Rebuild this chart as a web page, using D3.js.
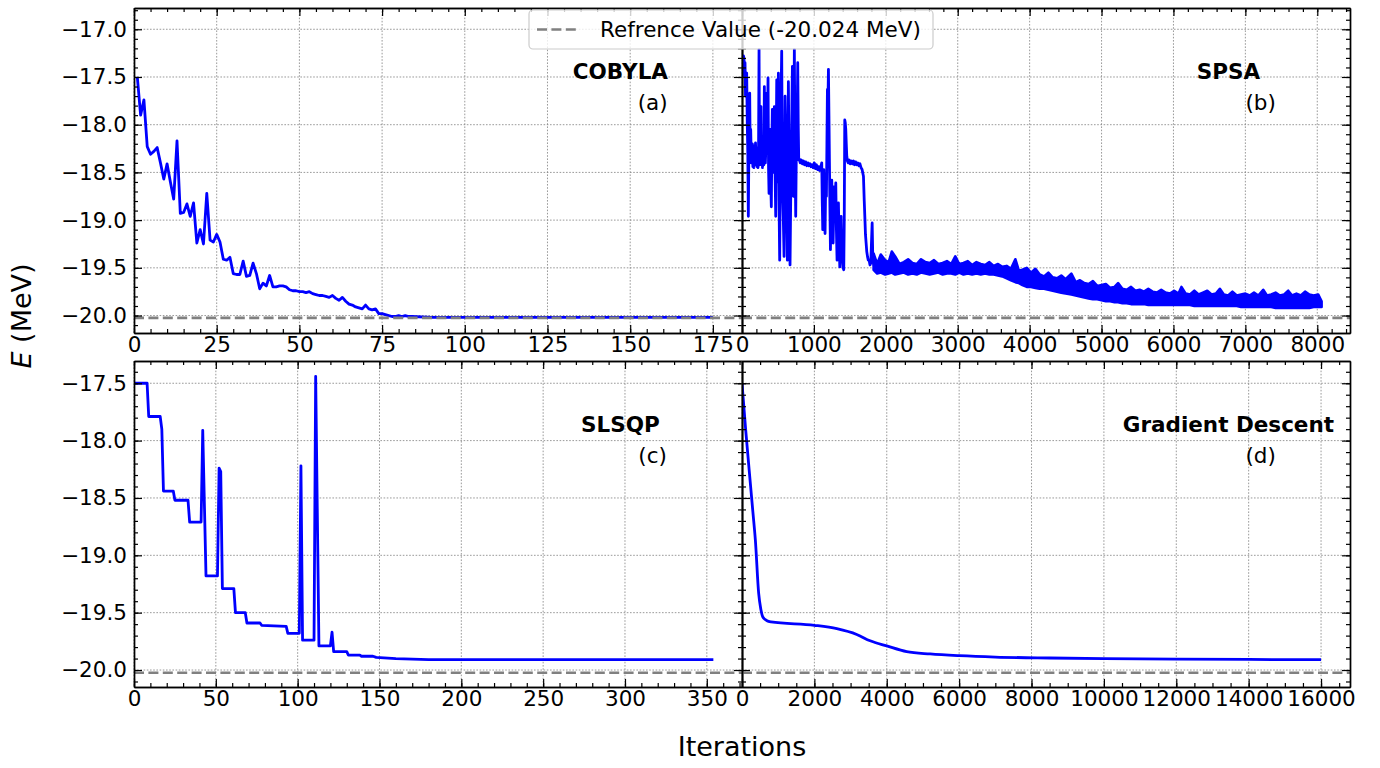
<!DOCTYPE html>
<html>
<head>
<meta charset="utf-8">
<script src="https://cdn.jsdelivr.net/npm/d3@7"></script>
<style>
  body { margin: 0; background: #fff; }
  svg { font-family: 'DejaVu Sans', sans-serif; }
  .grid line { stroke: #808080; stroke-width: 0.8; stroke-dasharray: 1.6,1.6; }
  .axis path, .axis line { stroke: #000; }
  .axis path { stroke-width: 1.4; }
  .axis line { stroke-width: 1.2; }
  .axis text { font-family: 'DejaVu Sans', sans-serif; font-size: 21.5px; fill: #000; }
</style>
</head>
<body>
<div id="chart"></div>
<script>
// reference energy
var refValue = -20.024;

// (a) COBYLA
var cobylaIter = [1, 2, 3, 4, 5, 6, 7, 8, 9, 10, 11, 12, 13, 14, 15, 16, 17, 18, 19, 20,
  21, 22, 23, 24, 25, 26, 27, 28, 29, 30, 31, 32, 33, 34, 35, 36, 37, 38, 39, 40,
  41, 42, 43, 44, 45, 46, 47, 48, 49, 50, 51, 52, 53, 54, 55, 56, 57, 58, 59, 60,
  61, 62, 63, 64, 65, 66, 67, 68, 69, 70, 71, 72, 73, 74, 75, 76, 77, 78, 79, 80,
  81, 82, 83, 84, 90, 100, 175];
var cobylaE = [-17.50, -17.90, -17.74, -18.23, -18.31, -18.28, -18.24, -18.40, -18.57, -18.41,
  -18.60, -18.78, -18.17, -18.93, -18.92, -18.83, -18.96, -18.82, -19.24, -19.10,
  -19.25, -18.72, -19.21, -19.23, -19.15, -19.23, -19.41, -19.42, -19.39, -19.56,
  -19.57, -19.57, -19.43, -19.59, -19.58, -19.45, -19.56, -19.72, -19.66, -19.69,
  -19.58, -19.70, -19.70, -19.69, -19.69, -19.70, -19.73, -19.74, -19.74, -19.75,
  -19.75, -19.76, -19.75, -19.77, -19.78, -19.79, -19.79, -19.80, -19.81, -19.79,
  -19.82, -19.84, -19.81, -19.85, -19.88, -19.89, -19.91, -19.92, -19.93, -19.89,
  -19.93, -19.94, -19.93, -19.98, -19.98, -19.99, -20.00, -20.01, -20.01, -20.00,
  -20.01, -20.00, -20.01, -20.01, -20.02, -20.02, -20.02];

// (b) SPSA, noisy start
var spsaIter = [0, 7, 14, 21, 28, 35, 42, 49, 56, 65, 74, 81, 88, 97, 107, 114, 121, 130, 137, 144,
  151, 158, 165, 172, 180, 188, 195, 202, 209, 216, 222, 230, 237, 244, 251, 264, 271, 278, 285, 297,
  304, 311, 318, 325, 334, 343, 352, 362, 369, 376, 383, 390, 399, 408, 415, 422, 429, 436, 443, 450,
  460, 469, 476, 483, 490, 496, 501, 506, 515, 524, 531, 538, 545, 552, 559, 566, 575, 585, 592, 599,
  608, 617, 624, 631, 638, 645, 652, 659, 668, 677, 687, 694, 701, 708, 715, 722, 728, 737, 747, 754,
  761, 768, 775, 782, 789, 797, 810, 825, 840, 855, 870, 885, 900, 915, 930, 945, 960, 975, 990, 1005,
  1020, 1035, 1050, 1065, 1080, 1095, 1109, 1116, 1123, 1130, 1137, 1146, 1155, 1164, 1174, 1181, 1188, 1195, 1202, 1209,
  1216, 1223, 1230, 1239, 1248, 1257, 1267, 1276, 1285, 1295, 1304, 1313, 1322, 1331, 1341, 1350, 1360, 1369, 1378, 1387,
  1397, 1406, 1415, 1422, 1429, 1436, 1443, 1450, 1457, 1466, 1476, 1490, 1505, 1520, 1535, 1550, 1565, 1580, 1595, 1610,
  1625, 1640, 1655, 1670, 1689, 1700, 1708, 1717, 1726, 1735, 1745, 1756, 1768, 1780, 1791, 1800, 1810, 1819, 1828, 1840,
  1847];
var spsaE = [-17.34, -17.30, -17.46, -17.28, -17.31, -17.50, -17.35, -17.70, -17.63, -17.46,
  -18.02, -18.30, -18.96, -18.16, -17.67, -18.30, -18.05, -18.40, -18.22, -18.20,
  -18.44, -18.25, -18.45, -18.22, -18.42, -18.19, -18.40, -18.24, -18.44, -18.26,
  -18.45, -18.30, -17.21, -18.42, -18.40, -17.81, -18.42, -18.33, -18.45, -18.16,
  -18.42, -17.60, -18.30, -18.40, -18.20, -17.67, -18.30, -17.51, -18.45, -18.72,
  -18.30, -18.05, -18.60, -18.86, -18.20, -17.84, -18.50, -18.40, -18.10, -17.81,
  -18.50, -18.96, -18.20, -17.53, -18.60, -18.40, -17.80, -17.46, -18.80, -19.42,
  -18.60, -18.05, -17.60, -17.23, -18.20, -18.75, -19.00, -19.38, -18.50, -17.70,
  -18.10, -18.40, -19.00, -19.42, -18.50, -17.55, -18.20, -18.75, -19.47, -18.80,
  -18.23, -17.80, -17.39, -18.30, -18.75, -18.00, -17.21, -18.30, -18.96, -18.40,
  -17.70, -17.90, -17.35, -18.00, -18.37, -18.36, -18.40, -18.37, -18.41, -18.38,
  -18.42, -18.39, -18.43, -18.40, -18.43, -18.41, -18.44, -18.42, -18.45, -18.40,
  -18.46, -18.42, -18.47, -18.44, -18.48, -18.45, -18.40, -18.80, -19.10, -18.60,
  -18.47, -18.90, -19.14, -18.60, -18.75, -18.20, -17.63, -17.80, -17.42, -17.90,
  -18.40, -18.90, -19.31, -18.80, -18.58, -18.90, -19.24, -18.90, -18.65, -19.00,
  -18.61, -19.10, -19.42, -19.00, -18.82, -19.20, -19.49, -19.10, -18.96, -19.30,
  -19.42, -19.50, -19.52, -19.00, -17.95, -17.98, -18.05, -18.20, -18.33, -18.38,
  -18.40, -18.37, -18.41, -18.38, -18.41, -18.38, -18.42, -18.39, -18.42, -18.40,
  -18.43, -18.41, -18.45, -18.47, -18.54, -18.80, -18.96, -19.15, -19.24, -19.33,
  -19.38, -19.42, -19.42, -19.47, -19.45, -19.25, -19.03, -19.40, -19.45, -19.48,
  -19.50];

// (b) SPSA, noise band after convergence: upper and lower edges
var spsaBandIter = [1830, 1880, 1930, 1990, 2040, 2083, 2130, 2190, 2250, 2310,
  2370, 2430, 2490, 2550, 2610, 2670, 2730, 2790, 2850, 2910,
  2966, 3020, 3080, 3140, 3200, 3260, 3320, 3380, 3440, 3500,
  3560, 3620, 3680, 3740, 3801, 3850, 3900, 3960, 4020, 4080,
  4140, 4200, 4260, 4320, 4380, 4440, 4500, 4580, 4640, 4700,
  4760, 4820, 4880, 4940, 5000, 5060, 5120, 5180, 5230, 5290,
  5350, 5410, 5470, 5530, 5590, 5650, 5710, 5770, 5830, 5890,
  5950, 6010, 6070, 6111, 6170, 6230, 6290, 6350, 6410, 6470,
  6530, 6590, 6645, 6700, 6760, 6820, 6880, 6940, 7000, 7060,
  7120, 7180, 7248, 7300, 7360, 7420, 7480, 7540, 7596, 7650,
  7710, 7770, 7830, 7890, 7950, 8014, 8060];
var spsaBandHigh = [-19.35, -19.46, -19.36, -19.42, -19.44, -19.33, -19.38, -19.46, -19.44, -19.41,
  -19.45, -19.46, -19.41, -19.44, -19.45, -19.42, -19.46, -19.45, -19.43, -19.46,
  -19.38, -19.46, -19.45, -19.43, -19.47, -19.44, -19.46, -19.47, -19.44, -19.48,
  -19.46, -19.49, -19.48, -19.51, -19.41, -19.53, -19.52, -19.50, -19.55, -19.51,
  -19.57, -19.59, -19.55, -19.60, -19.61, -19.58, -19.62, -19.56, -19.65, -19.63,
  -19.66, -19.67, -19.64, -19.69, -19.68, -19.67, -19.71, -19.70, -19.66, -19.72,
  -19.73, -19.70, -19.74, -19.73, -19.75, -19.72, -19.75, -19.76, -19.73, -19.76,
  -19.77, -19.74, -19.77, -19.70, -19.77, -19.78, -19.74, -19.78, -19.76, -19.74,
  -19.78, -19.77, -19.72, -19.78, -19.79, -19.75, -19.79, -19.78, -19.77, -19.79,
  -19.76, -19.79, -19.73, -19.79, -19.78, -19.76, -19.79, -19.78, -19.74, -19.79,
  -19.77, -19.79, -19.75, -19.78, -19.79, -19.78, -19.85];
var spsaBandLow = [-19.52, -19.56, -19.55, -19.57, -19.56, -19.55, -19.57, -19.56, -19.55, -19.57,
  -19.56, -19.57, -19.55, -19.56, -19.57, -19.56, -19.55, -19.57, -19.56, -19.56,
  -19.57, -19.55, -19.57, -19.56, -19.57, -19.56, -19.57, -19.56, -19.57, -19.57,
  -19.58, -19.59, -19.61, -19.63, -19.65, -19.66, -19.68, -19.70, -19.70, -19.71,
  -19.72, -19.72, -19.73, -19.74, -19.75, -19.76, -19.77, -19.78, -19.79, -19.80,
  -19.81, -19.82, -19.83, -19.83, -19.84, -19.85, -19.85, -19.86, -19.86, -19.87,
  -19.87, -19.88, -19.88, -19.88, -19.88, -19.89, -19.89, -19.89, -19.89, -19.89,
  -19.89, -19.89, -19.89, -19.89, -19.89, -19.89, -19.90, -19.90, -19.90, -19.90,
  -19.90, -19.90, -19.90, -19.90, -19.90, -19.90, -19.90, -19.91, -19.91, -19.91,
  -19.91, -19.91, -19.91, -19.91, -19.91, -19.92, -19.92, -19.92, -19.92, -19.92,
  -19.92, -19.92, -19.92, -19.92, -19.91, -19.91, -19.91];

// (c) SLSQP
var slsqpIter = [0, 8, 9, 16, 17, 18, 24, 25, 33, 34, 41, 42, 44, 51, 52, 53, 54, 61, 62, 68,
  69, 77, 78, 93, 94, 101, 102, 103, 110, 111, 113, 120, 121, 122, 130, 131, 138, 139, 146, 148,
  160, 180, 354];
var slsqpE = [-17.50, -17.50, -17.79, -17.79, -17.90, -18.44, -18.44, -18.52, -18.52, -18.71,
  -18.71, -17.91, -19.18, -19.18, -18.24, -18.27, -19.29, -19.29, -19.50, -19.50,
  -19.59, -19.59, -19.61, -19.62, -19.68, -19.68, -18.22, -19.74, -19.74, -17.44,
  -19.79, -19.79, -19.67, -19.84, -19.84, -19.87, -19.87, -19.88, -19.88, -19.89,
  -19.90, -19.91, -19.91];

// (d) Gradient descent
var gdIter = [0, 100, 230, 300, 370, 460, 520, 580, 690, 800, 2000, 2620, 3170, 3540, 4000,
  4550, 5200, 6000, 7000, 8500, 10000, 12000, 14000, 16000];
var gdE = [-17.50, -17.90, -18.37, -18.62, -18.87, -19.33, -19.47, -19.54, -19.57, -19.58,
  -19.61, -19.64, -19.69, -19.745, -19.79, -19.84, -19.86, -19.875, -19.887, -19.895,
  -19.90, -19.905, -19.908, -19.91];

// tick labels
var topYTicks = [-20.0, -19.5, -19.0, -18.5, -18.0, -17.5, -17.0];
var bottomYTicks = [-20.0, -19.5, -19.0, -18.5, -18.0, -17.5];
var cobylaXTicks = [0, 25, 50, 75, 100, 125, 150, 175];
var spsaXTicks = [0, 1000, 2000, 3000, 4000, 5000, 6000, 7000, 8000];
var slsqpXTicks = [0, 50, 100, 150, 200, 250, 300, 350];
var gdXTicks = [0, 2000, 4000, 6000, 8000, 10000, 12000, 14000, 16000];

var lineBlue = '#0000ff';
var refGray = '#808080';

var fullWidth = 1380;
var fullHeight = 768;
var panelW = 608;

var svg = d3.select('#chart').append('svg')
  .attr('width', fullWidth)
  .attr('height', fullHeight);

var defs = svg.append('defs');

function toPoints(xs, ys) {
  return xs.map(function(d, i) { return [d, ys[i]]; });
}

function drawPanel(p) {
  var panelH = p.height;
  var g = svg.append('g')
    .attr('transform', 'translate(' + p.left + ',' + p.top + ')');

  var x = d3.scaleLinear().domain(p.xDomain).range([0, panelW]);
  var y = d3.scaleLinear().domain(p.yDomain).range([panelH, 0]);

  defs.append('clipPath').attr('id', 'clip-' + p.id)
    .append('rect').attr('width', panelW).attr('height', panelH);

  // grid
  var grid = g.append('g').classed('grid', true);
  grid.selectAll('line.gx').data(p.xTicks).enter().append('line')
    .attr('x1', function(d) { return x(d); })
    .attr('x2', function(d) { return x(d); })
    .attr('y1', 0).attr('y2', panelH);
  grid.selectAll('line.gy').data(p.yTicks).enter().append('line')
    .attr('x1', 0).attr('x2', panelW)
    .attr('y1', function(d) { return y(d); })
    .attr('y2', function(d) { return y(d); });

  var plot = g.append('g').attr('clip-path', 'url(#clip-' + p.id + ')');

  var line = d3.line()
    .x(function(d) { return x(d[0]); })
    .y(function(d) { return y(d[1]); });

  if (p.band) {
    var area = d3.area()
      .x(function(d) { return x(d[0]); })
      .y0(function(d) { return y(d[1]); })
      .y1(function(d) { return y(d[2]); });
    var bandData = p.band[0].map(function(d, i) { return [d, p.band[2][i], p.band[1][i]]; });
    plot.append('path')
      .datum(bandData)
      .attr('d', area)
      .style('fill', lineBlue)
      .style('stroke', lineBlue)
      .style('stroke-width', 2.6)
      .style('stroke-linejoin', 'round');
  }

  plot.append('path')
    .datum(toPoints(p.xs, p.ys))
    .attr('d', p.curve ? line.curve(p.curve) : line)
    .style('fill', 'none')
    .style('stroke', lineBlue)
    .style('stroke-width', 2.8)
    .style('stroke-linejoin', 'round');

  plot.append('line')
    .attr('x1', 0).attr('x2', panelW)
    .attr('y1', y(refValue)).attr('y2', y(refValue))
    .style('stroke', refGray)
    .style('stroke-width', 2.6)
    .style('stroke-dasharray', '10,4.4');

  // ticks on all four sides, pointing inward
  var xMinor = d3.range(p.xDomain[0], p.xDomain[1], p.xMinor);
  var yMinor = d3.range(-20.1, -16.7, 0.1).filter(function(d) { return d >= p.yDomain[0] && d <= p.yDomain[1]; });

  function addAxis(axisFn, scale, ticks, size, transform) {
    var a = axisFn(scale).tickValues(ticks).tickSizeInner(size).tickSizeOuter(0).tickFormat('');
    return g.append('g').classed('axis', true)
      .attr('transform', transform)
      .call(a);
  }

  addAxis(d3.axisBottom, x, xMinor, -4, 'translate(0,' + panelH + ')');
  addAxis(d3.axisTop, x, xMinor, -4, 'translate(0,0)');
  addAxis(d3.axisLeft, y, yMinor, -4, 'translate(0,0)');
  addAxis(d3.axisRight, y, yMinor, -4, 'translate(' + panelW + ',0)');

  var xb = d3.axisBottom(x).tickValues(p.xTicks).tickSizeInner(-8).tickSizeOuter(0)
    .tickPadding(4).tickFormat(d3.format('d'));
  g.append('g').classed('axis', true)
    .attr('transform', 'translate(0,' + panelH + ')')
    .call(xb);
  addAxis(d3.axisTop, x, p.xTicks, -8, 'translate(0,0)');
  addAxis(d3.axisRight, y, p.yTicks, -8, 'translate(' + panelW + ',0)');
  var yl = d3.axisLeft(y).tickValues(p.yTicks).tickSizeInner(-8).tickSizeOuter(0)
    .tickPadding(7).tickFormat(p.yLabels ? d3.format('.1f') : '');
  g.append('g').classed('axis', true).call(yl);

  // method name and panel letter
  g.append('text')
    .attr('x', panelW * 0.8)
    .attr('y', 71)
    .style('text-anchor', 'middle')
    .style('font-size', '21.5px')
    .style('font-weight', 'bold')
    .text(p.name);
  g.append('text')
    .attr('x', panelW * 0.853)
    .attr('y', 102)
    .style('text-anchor', 'middle')
    .style('font-size', '21.5px')
    .text(p.letter);
}

drawPanel({id: 'a', left: 134, top: 8, height: 325,
  xDomain: [0, 183.8], yDomain: [-20.183, -16.777],
  xTicks: cobylaXTicks, yTicks: topYTicks, xMinor: 5, yLabels: true,
  xs: cobylaIter, ys: cobylaE, name: 'COBYLA', letter: '(a)'});

drawPanel({id: 'b', left: 742, top: 8, height: 325,
  xDomain: [0, 8455], yDomain: [-20.183, -16.777],
  xTicks: spsaXTicks, yTicks: topYTicks, xMinor: 200, yLabels: false,
  xs: spsaIter, ys: spsaE, band: [spsaBandIter, spsaBandHigh, spsaBandLow],
  name: 'SPSA', letter: '(b)'});

drawPanel({id: 'c', left: 134, top: 361, height: 326,
  xDomain: [0, 371.5], yDomain: [-20.148, -17.306],
  xTicks: slsqpXTicks, yTicks: bottomYTicks, xMinor: 10, yLabels: true,
  xs: slsqpIter, ys: slsqpE, name: 'SLSQP', letter: '(c)'});

drawPanel({id: 'd', left: 742, top: 361, height: 326,
  xDomain: [0, 16800], yDomain: [-20.148, -17.306],
  xTicks: gdXTicks, yTicks: bottomYTicks, xMinor: 500, yLabels: false,
  xs: gdIter, ys: gdE, curve: d3.curveMonotoneX,
  name: 'Gradient Descent', letter: '(d)'});

// shared axis titles
svg.append('text')
  .attr('x', 742)
  .attr('y', 756)
  .style('text-anchor', 'middle')
  .style('font-size', '27px')
  .text('Iterations');

var yTitle = svg.append('text')
  .attr('transform', 'translate(31,316) rotate(-90)')
  .style('text-anchor', 'middle')
  .style('font-size', '27px');
yTitle.append('tspan').style('font-style', 'italic').text('E');
yTitle.append('tspan').text(' (MeV)');

// legend
var legend = svg.append('g').attr('class', 'legend');
legend.append('rect')
  .attr('x', 529).attr('y', 10)
  .attr('width', 404).attr('height', 39)
  .attr('rx', 4)
  .style('fill', '#fff')
  .style('fill-opacity', 0.8)
  .style('stroke', '#cccccc')
  .style('stroke-width', 1.2);
legend.append('line')
  .attr('x1', 537).attr('x2', 580)
  .attr('y1', 29.5).attr('y2', 29.5)
  .style('stroke', refGray)
  .style('stroke-width', 2.6)
  .style('stroke-dasharray', '10,4.4');
legend.append('text')
  .attr('x', 600).attr('y', 37)
  .style('font-size', '21.5px')
  .text('Refrence Value (' + refValue.toFixed(3) + ' MeV)');
</script>
</body>
</html>
